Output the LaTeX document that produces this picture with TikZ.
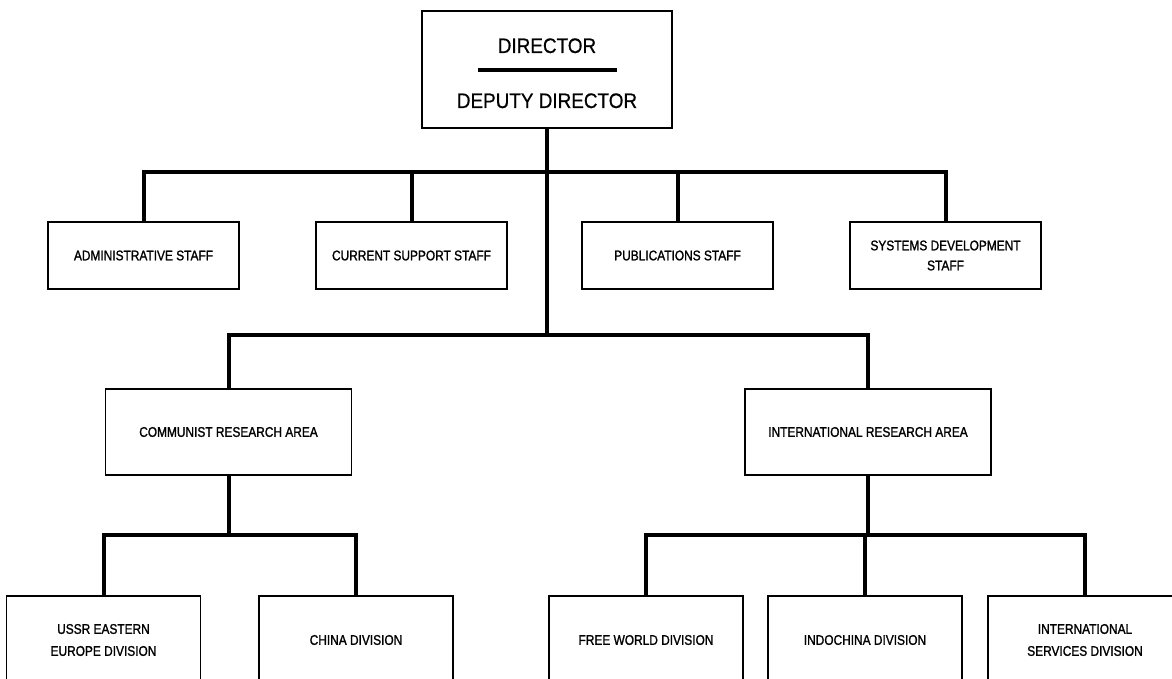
\documentclass[tikz,border=0pt]{standalone}
\usepackage{fontspec}
\setmainfont{Liberation Sans}
\newfontfamily\orgfont[FakeStretch=0.85,FakeBold=1.3]{Liberation Sans}
\newfontfamily\headfont[FakeStretch=0.9,FakeBold=0.6]{Liberation Sans}
\begin{document}
\begin{tikzpicture}[x=1pt,y=-1pt,
  unit/.style={draw, line width=1.5pt, inner sep=0pt, align=center,
    font=\orgfont\fontsize{14}{20}\selectfont},
  staffbox/.style={unit, minimum width=191pt, minimum height=67pt},
  areabox/.style={unit, minimum width=246pt, minimum height=86pt},
  divbox/.style={unit, minimum width=194pt, minimum height=88pt,
    font=\orgfont\fontsize{14}{22}\selectfont},
  headbox/.style={draw, line width=1.5pt, minimum width=250pt, minimum height=117pt},
  headtext/.style={inner sep=0pt, anchor=base, font=\headfont\fontsize{21}{25}\selectfont},
  conn/.style={line width=4pt, line join=miter}
]
\useasboundingbox (0,0) rectangle (1172,679);
\clip (0,0) rectangle (1172,679);

% top of the organisation
\node[headbox] (dir) at (547,69.5) {};
\node[headtext] (dirname) at (547,53) {DIRECTOR};
\node[headtext] (depname) at (547,108) {DEPUTY DIRECTOR};
\draw[line width=3.5pt] (dir.center) ++(-69.5,0.5) -- ++(139,0);

% staffs
\node[staffbox] (adm) at (143.5,255.5) {ADMINISTRATIVE STAFF};
\node[staffbox] (cur) at (411.5,255.5) {CURRENT SUPPORT STAFF};
\node[staffbox] (pub) at (677.5,255.5) {PUBLICATIONS STAFF};
\node[staffbox] (sys) at (945.5,255.5) {SYSTEMS DEVELOPMENT\\STAFF};

% research areas
\node[areabox] (com) at (228.5,432) {COMMUNIST RESEARCH AREA};
\node[areabox] (intl) at (868,432) {INTERNATIONAL RESEARCH AREA};

% divisions
\node[divbox] (ussr) at (103.5,640) {USSR EASTERN\\EUROPE DIVISION};
\node[divbox] (china) at (356,640) {CHINA DIVISION};
\node[divbox] (free) at (646,640) {FREE WORLD DIVISION};
\node[divbox] (indo) at (865,640) {INDOCHINA DIVISION};
\node[divbox] (isd) at (1085,640) {INTERNATIONAL\\SERVICES DIVISION};

% bar levels
\coordinate (bar1) at (547,172);
\coordinate (bar2) at (547,335);
\coordinate (bar3) at (0,535);

% connectors
\draw[conn] (dir.south) -- (bar2);
\draw[conn] (adm.north) -- (adm.north |- bar1) -- (sys.north |- bar1) -- (sys.north);
\draw[conn] (cur.north) -- (cur.north |- bar1);
\draw[conn] (pub.north) -- (pub.north |- bar1);
\draw[conn] (com.north) -- (com.north |- bar2) -- (intl.north |- bar2) -- (intl.north);
\draw[conn] (com.south) -- (com.south |- bar3);
\draw[conn] (ussr.north) -- (ussr.north |- bar3) -- (china.north |- bar3) -- (china.north);
\draw[conn] (intl.south) -- (intl.south |- bar3);
\draw[conn] (free.north) -- (free.north |- bar3) -- (isd.north |- bar3) -- (isd.north);
\draw[conn] (indo.north) -- (indo.north |- bar3);
\end{tikzpicture}
\end{document}
